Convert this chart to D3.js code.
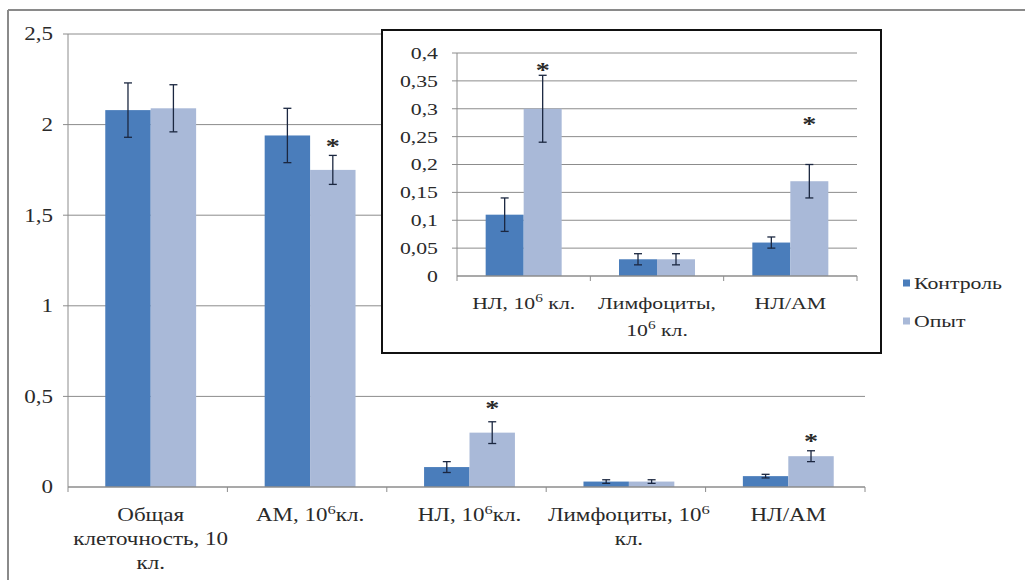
<!DOCTYPE html>
<html>
<head>
<meta charset="utf-8">
<script src="https://cdn.jsdelivr.net/npm/d3@7"></script>
<style>
  body { margin: 0; background: #fff; }
  svg { display: block; }
</style>
</head>
<body>
<script>
// data
var series = ["Контроль", "Опыт"];
var mainCats = ["Общая клеточность", "АМ", "НЛ", "Лимфоциты", "НЛ/АМ"];
var mainLabels = [["Общая", "клеточность, 10", "кл."], ["АМ, 10^6кл."], ["НЛ, 10^6кл."], ["Лимфоциты, 10^6", "кл."], ["НЛ/АМ"]];
var controlMain = [2.08, 1.94, 0.11, 0.03, 0.06];
var controlMainErr = [0.15, 0.15, 0.03, 0.01, 0.01];
var opytMain = [2.09, 1.75, 0.30, 0.03, 0.17];
var opytMainErr = [0.13, 0.08, 0.06, 0.01, 0.03];
var starMain = [null, 1.93, 0.48, null, 0.30];
var mainTicks = [0, 0.5, 1, 1.5, 2, 2.5];

var insetCats = ["НЛ", "Лимфоциты", "НЛ/АМ"];
var insetLabels = [["НЛ, 10^6 кл."], ["Лимфоциты,", "10^6 кл."], ["НЛ/АМ"]];
var controlInset = [0.11, 0.03, 0.06];
var controlInsetErr = [0.03, 0.01, 0.01];
var opytInset = [0.30, 0.03, 0.17];
var opytInsetErr = [0.06, 0.01, 0.03];
var starInset = [0.384, null, 0.287];
var insetTicks = [0, 0.05, 0.1, 0.15, 0.2, 0.25, 0.3, 0.35, 0.4];

var colors = ["#4a7dbb", "#a9b9d8"];
var serif = "Liberation Serif";
var stretch = 1.28;   // the source picture is stretched sideways

var width = 1025, height = 580;
var svg = d3.select("body").append("svg").attr("width", width).attr("height", height)
    .attr("font-family", serif);

// outer frame (left and top only visible)
svg.append("line").attr("x1", 8).attr("x2", 8).attr("y1", 10).attr("y2", height)
    .style("stroke", "#8a8a8a").style("stroke-width", 2);
svg.append("line").attr("x1", 8).attr("x2", width).attr("y1", 10).attr("y2", 10)
    .style("stroke", "#8a8a8a").style("stroke-width", 2);

var fmt = d => String(d).replace(".", ",");

// text placed at (x,y) and widened sideways around its anchor
function wideText(parent, x, y, anchor, size) {
  return parent.append("g")
      .attr("transform", "translate(" + x + "," + y + ") scale(" + stretch + ",1)")
    .append("text")
      .attr("text-anchor", anchor)
      .attr("font-family", serif).attr("fill", "#2a2a2a")
      .attr("font-size", size);
}

function addLabel(sel, lines, lineH, fontSize) {
  lines.forEach(function(line, i) {
    var t = wideText(sel, 0, i * lineH, "middle", fontSize);
    var parts = line.split("^6");
    t.append("tspan").text(parts[0]);
    if (parts.length > 1) {
      t.append("tspan").attr("dy", -7).attr("font-size", fontSize - 5).text("6");
      t.append("tspan").attr("dy", 7).text(parts[1]);
    }
  });
}

function drawChart(g, o) {
  var x = d3.scaleBand().domain(o.cats).range([o.x0, o.x1]).paddingInner(0.43).paddingOuter(0.215);
  var xs = d3.scaleBand().domain(series).range([0, x.bandwidth()]);
  var y = d3.scaleLinear().domain([0, o.max]).range([o.y0, o.y1]);

  // gridlines
  g.selectAll(".grid").data(o.ticks.slice(1)).enter().append("line")
      .attr("x1", o.x0 - 5).attr("x2", o.x1)
      .attr("y1", d => y(d)).attr("y2", d => y(d))
      .style("stroke", "#8c8c8c").style("stroke-width", 1);
  g.append("line").attr("x1", o.x0).attr("x2", o.x0).attr("y1", o.y1).attr("y2", o.y0)
      .style("stroke", "#8c8c8c");

  o.ticks.forEach(function(t) {
    wideText(g, o.x0 - o.tickGap, y(t), "end", o.font).attr("dy", "0.35em").text(fmt(t));
  });

  var vals = [o.control, o.opyt], errs = [o.controlErr, o.opytErr];
  series.forEach(function(s, si) {
    var bars = o.cats.map((c, i) => ({ c: c, v: vals[si][i], e: errs[si][i] }));
    g.selectAll(".bar" + si).data(bars).enter().append("rect")
        .attr("x", d => x(d.c) + xs(s) + o.shift).attr("width", xs.bandwidth())
        .attr("y", d => y(d.v)).attr("height", d => y(0) - y(d.v))
        .attr("fill", colors[si]);
    var eb = g.selectAll(".err" + si).data(bars).enter().append("g")
        .attr("transform", d => "translate(" + (x(d.c) + xs(s) + xs.bandwidth() / 2 + o.shift) + ",0)");
    eb.append("line").attr("y1", d => y(d.v + d.e)).attr("y2", d => y(d.v - d.e))
        .style("stroke", "#1b2740").style("stroke-width", 1.3);
    eb.append("line").attr("x1", -4).attr("x2", 4).attr("y1", d => y(d.v + d.e)).attr("y2", d => y(d.v + d.e))
        .style("stroke", "#1b2740").style("stroke-width", 1.3);
    eb.append("line").attr("x1", -4).attr("x2", 4).attr("y1", d => y(d.v - d.e)).attr("y2", d => y(d.v - d.e))
        .style("stroke", "#1b2740").style("stroke-width", 1.3);
  });

  // stars
  o.cats.forEach(function(c, i) {
    if (o.star[i] == null) return;
    wideText(g, x(c) + xs("Опыт") + xs.bandwidth() / 2 + o.shift, y(o.star[i]), "middle", 22)
        .attr("dy", "0.7em").attr("font-weight", "bold").text("*");
  });

  // x axis
  g.append("line").attr("x1", o.x0).attr("x2", o.x1).attr("y1", o.y0).attr("y2", o.y0)
      .style("stroke", "#8c8c8c").style("stroke-width", 1.5);
  var bounds = o.cats.map(c => x(c) - x.step() * x.paddingInner() / 2);
  bounds.push(o.x1);
  g.selectAll(".xtick").data(bounds).enter().append("line")
      .attr("x1", d => d).attr("x2", d => d).attr("y1", o.y0).attr("y2", o.y0 + 5)
      .style("stroke", "#8c8c8c");

  o.cats.forEach(function(c, i) {
    var lg = g.append("g").attr("transform", "translate(" + (x(c) + x.bandwidth() / 2 + o.shift) + "," + (o.y0 + o.labelOffset) + ")");
    addLabel(lg, o.labels[i], o.lineH, o.font);
  });
}

drawChart(svg.append("g"), {
  cats: mainCats, labels: mainLabels, control: controlMain, controlErr: controlMainErr,
  opyt: opytMain, opytErr: opytMainErr, star: starMain, ticks: mainTicks, max: 2.5,
  x0: 68, x1: 865, y0: 487, y1: 34, font: 18, lineH: 24, labelOffset: 34, shift: 3, tickGap: 15
});

// inset
svg.append("rect").attr("x", 382).attr("y", 30).attr("width", 499).attr("height", 323)
    .attr("fill", "#fff").style("stroke", "#111").style("stroke-width", 2);

drawChart(svg.append("g"), {
  cats: insetCats, labels: insetLabels, control: controlInset, controlErr: controlInsetErr,
  opyt: opytInset, opytErr: opytInsetErr, star: starInset, ticks: insetTicks, max: 0.4,
  x0: 457, x1: 857, y0: 276, y1: 53, font: 17, lineH: 27, labelOffset: 33, shift: 0, tickGap: 19
});

// legend
var legend = svg.append("g").attr("transform", "translate(903,283)");
series.forEach(function(s, i) {
  var li = legend.append("g").attr("transform", "translate(0," + (i * 38) + ")");
  li.append("rect").attr("x", 0).attr("y", -3.5).attr("width", 7).attr("height", 7).attr("fill", colors[i]);
  wideText(li, 11, 0, "start", 17).attr("dy", "0.35em").text(s);
});
</script>
</body>
</html>
